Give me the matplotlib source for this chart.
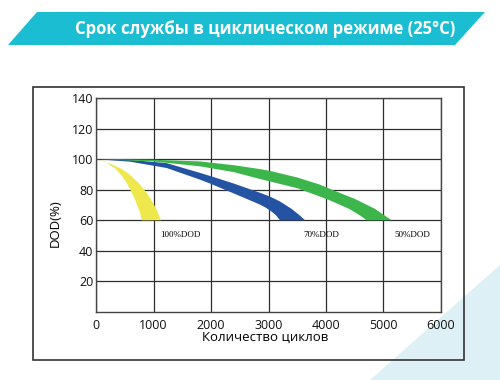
import matplotlib
matplotlib.use('Agg')
import matplotlib.pyplot as plt
from matplotlib.patches import Polygon, Rectangle

# chart data (cycles, DOD %)
title = "Срок службы в циклическом режиме (25°C)"
x_label = "Количество циклов"
y_label = "DOD(%)"
x_ticks = [0, 1000, 2000, 3000, 4000, 5000, 6000]
y_ticks = [20, 40, 60, 80, 100, 120, 140]

# each band: upper edge (ends further right at 60%) and lower edge, both from (0, 100)
yellow_upper_x = [0, 250, 450, 591, 750, 882, 980, 1055, 1130]
yellow_upper_y = [100, 97, 93.5, 89.8, 84, 78, 72, 67, 60]
yellow_lower_x = [0, 150, 330, 450, 534, 610, 678, 730, 765, 795]
yellow_lower_y = [100, 98.5, 94, 89, 84.4, 79, 73.6, 68.5, 65, 60]

blue_upper_x = [0, 600, 1229, 1809, 2000, 2400, 2852, 3026, 3200, 3400, 3550, 3635]
blue_upper_y = [100, 99.5, 97.4, 91, 88.8, 84, 78, 75.5, 72.3, 67.5, 63, 60]
blue_lower_x = [0, 600, 1229, 1809, 2000, 2400, 2852, 2950, 3050, 3130, 3200]
blue_lower_y = [100, 98.3, 94.2, 86.6, 83.8, 77.5, 70.3, 68.3, 65.8, 63.3, 60]

green_upper_x = [0, 1000, 1809, 2400, 2852, 3026, 3500, 3896, 4070, 4500, 4850, 5142]
green_upper_y = [100, 99.6, 98.5, 96, 93.5, 92.3, 88, 83.3, 80.5, 74, 67.5, 60]
green_lower_x = [0, 1000, 1809, 2400, 2852, 3500, 3896, 4070, 4400, 4600, 4707]
green_lower_y = [100, 98.5, 95.3, 91.5, 87, 81, 75.5, 73, 67.5, 63, 60]

labels = ["100%DOD", "70%DOD", "50%DOD"]
label_x = [1460, 3925, 5510]
label_y = [50.7, 50.7, 50.7]

W, H = 500, 380
fig = plt.figure(figsize=(5, 3.8), dpi=100)


def fx(px):
    return px / W


def fy(py):
    return 1 - py / H


# light background triangle bottom-right
fig.add_artist(Polygon([(fx(370), fy(380)), (fx(500), fy(265)), (fx(500), fy(380))],
                       closed=True, transform=fig.transFigure, facecolor='#ddf0f5',
                       edgecolor='none', zorder=0))

# title banner
fig.add_artist(Polygon([(fx(8), fy(45)), (fx(37), fy(12)), (fx(485), fy(12)), (fx(455), fy(45))],
                       closed=True, transform=fig.transFigure, facecolor='#1bbdd2',
                       edgecolor='none', zorder=1))
fig.text(fx(265), fy(29), title, color='white', fontsize=12, fontweight='bold',
         family='Open Sans', ha='center', va='center', zorder=2)

# outer frame
fig.add_artist(Rectangle((fx(33), fy(360)), fx(464) - fx(33), fy(87) - fy(360),
                         transform=fig.transFigure, facecolor='none',
                         edgecolor='#333333', linewidth=1.2, zorder=1))

ax = fig.add_axes([fx(96), fy(312), fx(441) - fx(96), fy(98) - fy(312)])
ax.set_xlim(0, 6000)
ax.set_ylim(0, 140)


def band(ux, uy, lx, ly, color):
    pts = list(zip(ux, uy)) + list(zip(lx[::-1], ly[::-1]))
    ax.add_patch(Polygon(pts, closed=True, facecolor=color, edgecolor='none', zorder=3))


band(yellow_upper_x, yellow_upper_y, yellow_lower_x, yellow_lower_y, '#eee84c')
band(blue_upper_x, blue_upper_y, blue_lower_x, blue_lower_y, '#2453a3')
band(green_upper_x, green_upper_y, green_lower_x, green_lower_y, '#3cb54a')

for t, x, y in zip(labels, label_x, label_y):
    ax.text(x, y, t, family='Liberation Serif', fontsize=6.5, ha='center', va='center', zorder=4)

ax.set_xticks(x_ticks)
ax.set_yticks(y_ticks)
ax.set_xticklabels([str(v) for v in x_ticks], family='Open Sans', fontsize=9)
ax.set_yticklabels([str(v) for v in y_ticks], family='Open Sans', fontsize=9)
ax.tick_params(axis='both', length=0, colors='#111111')
ax.tick_params(axis='x', pad=5)
ax.tick_params(axis='y', pad=2)
ax.grid(True, color='#2e2e2e', linewidth=0.9)
ax.set_axisbelow(True)
for s in ax.spines.values():
    s.set_color('#444444')
    s.set_linewidth(1.0)

fig.text(fx(265), fy(337), x_label, family='Open Sans', fontsize=9.5, ha='center', va='center')
fig.text(fx(55), fy(223), y_label, family='Open Sans', fontsize=9.5, ha='center', va='center',
         rotation=90)

fig.savefig('out.png', dpi=100)
plt.close(fig)
